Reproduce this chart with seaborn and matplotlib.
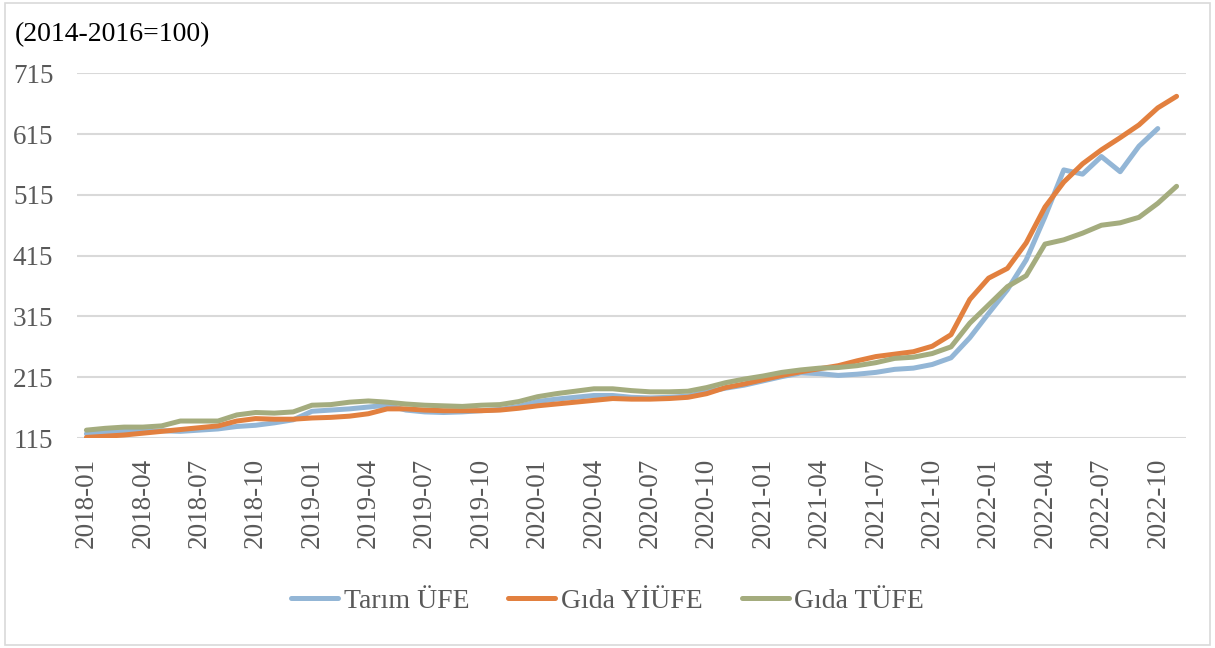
import pandas as pd
import seaborn as sns
import matplotlib.pyplot as plt
from matplotlib.patches import Rectangle

# monthly index values, 2018-01 .. 2022-11 (2014-2016=100)
months = pd.period_range("2018-01", "2022-11", freq="M").strftime("%Y-%m").tolist()

tarim_ufe = [122, 124, 126, 126, 127, 126, 128, 130, 134, 136, 140, 145,
             159, 161, 163, 166, 169, 161, 158, 157, 158, 160, 162, 167,
             175, 179, 182, 185, 185, 182, 181, 182, 184, 191, 197, 202,
             209, 216, 222, 221, 218, 220, 223, 228, 230, 236, 247, 280,
             320, 359, 408, 479, 556, 549, 578, 553, 595, 624, None]

gida_yiufe = [116, 118, 120, 123, 126, 129, 132, 135, 143, 147, 146, 146,
              148, 149, 151, 155, 163, 163, 161, 160, 160, 160, 161, 164,
              168, 171, 174, 177, 180, 179, 179, 180, 182, 188, 198, 204,
              211, 218, 224, 229, 234, 242, 249, 253, 257, 266, 285, 343,
              378, 394, 436, 495, 536, 566, 589, 609, 630, 658, 677]

gida_tufe = [128, 131, 133, 133, 135, 143, 143, 143, 153, 157, 156, 158,
             169, 170, 174, 176, 174, 171, 169, 168, 167, 169, 170, 175,
             183, 188, 192, 196, 196, 193, 191, 191, 192, 198, 206, 212,
             217, 223, 227, 230, 231, 234, 239, 246, 248, 254, 265, 304,
             334, 364, 382, 434, 441, 452, 465, 469, 478, 501, 529]

series = ["Tarım ÜFE", "Gıda YİÜFE", "Gıda TÜFE"]
colors = ["#93B6D6", "#E2803F", "#A4AC7E"]

df = pd.DataFrame({"t": range(len(months)), "Tarım ÜFE": tarim_ufe,
                   "Gıda YİÜFE": gida_yiufe, "Gıda TÜFE": gida_tufe})
df = df.melt(id_vars="t", var_name="seri", value_name="deger").dropna()

sns.set_theme(style="white")
plt.rcParams['font.family'] = ['Liberation Serif', 'DejaVu Serif']

fig = plt.figure(figsize=(12.15, 6.48), dpi=100)
ax = fig.add_axes([0.0634, 0.324, 0.9127, 0.563])

sns.lineplot(data=df, x="t", y="deger", hue="seri", hue_order=series,
             palette=colors, linewidth=3.6, ax=ax, legend=False)

ax.set_xlim(-0.5, len(months) - 0.5)
ax.set_ylim(115, 715)
ax.set_yticks(range(115, 716, 100))
ax.set_xticks(range(0, len(months), 3))
ax.set_xticklabels(months[::3], rotation=90)
ax.tick_params(axis="both", labelsize=19.5, colors="#595959", length=0)
ax.tick_params(axis="y", pad=17)
ax.tick_params(axis="x", pad=14)
ax.yaxis.grid(True, color="#D9D9D9", linewidth=1.5)
ax.set_axisbelow(True)
for s in ax.spines.values():
    s.set_visible(False)
ax.set_xlabel("")
ax.set_ylabel("")

fig.text(0.012, 0.947, "(2014-2016=100)", fontsize=20, color="black", va="center")

handles = [plt.Line2D([], [], color=c, linewidth=3.6, solid_capstyle="round") for c in colors]
fig.legend(handles, series, loc="center", bbox_to_anchor=(0.5, 0.072), ncol=3,
           frameon=False, fontsize=20, handlelength=1.7, handletextpad=0.2,
           columnspacing=1.4, labelcolor="#595959")

fig.patches.append(Rectangle((0.004, 0.005), 0.992, 0.99, transform=fig.transFigure,
                             fill=False, edgecolor="#D9D9D9", linewidth=1.2))

fig.savefig("out.png", dpi=100)
